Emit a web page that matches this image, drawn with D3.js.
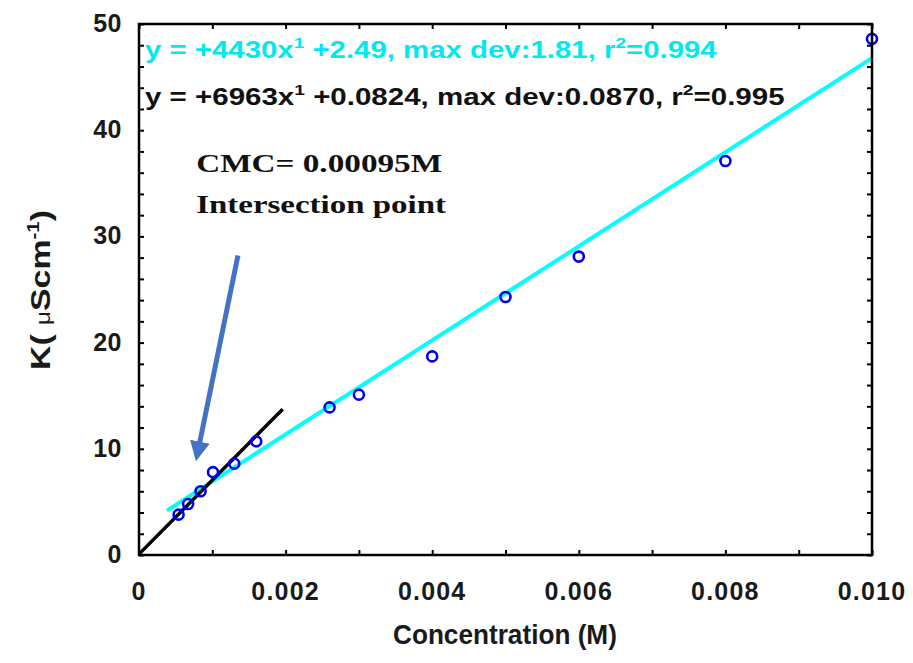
<!DOCTYPE html>
<html lang="en">
<head>
<meta charset="UTF-8" />
<title>Conductivity vs Concentration</title>
<style>
  body { margin: 0; background: #fff; }
  text { font-family: "Liberation Sans", Arial, sans-serif; }
</style>
</head>
<body>
<div id="chart"></div>
<script src="https://cdn.jsdelivr.net/npm/d3@7"></script>
<script>
// measured points
var conc = [0.00054, 0.00067, 0.00084, 0.00101, 0.0013, 0.0016, 0.0026, 0.0030, 0.0040, 0.0050, 0.0060, 0.0080, 0.0100];
var kVal = [3.8, 4.8, 6.0, 7.8, 8.6, 10.7, 13.9, 15.1, 18.7, 24.3, 28.1, 37.1, 48.6];

// fitted lines: slope, intercept, range of x
var fitSlope = [4430, 6963];
var fitIntercept = [2.49, 0.0824];
var fitFrom = [0.00038, 0];
var fitTo = [0.0100, 0.00196];
var fitColor = ["#00ffff", "#000000"];

var xTickLabels = ["0", "0.002", "0.004", "0.006", "0.008", "0.010"];
var yTickLabels = ["0", "10", "20", "30", "40", "50"];

var w = 913, h = 663;
var mLeft = 139, mRight = 872, mTop = 24, mBottom = 555;

var svg = d3.select("#chart").append("svg")
  .attr("width", w)
  .attr("height", h);

var xScale = d3.scaleLinear().domain([0, 0.010]).range([mLeft, mRight]);
var yScale = d3.scaleLinear().domain([0, 50]).range([mBottom, mTop]);

// stretch a text horizontally so it spans the width seen in the picture
function stretch(t, x, y, width, anchor) {
  var len = t.node().getComputedTextLength();
  var sx = width / len;
  var x0 = anchor === "middle" ? x - width / 2 : x;
  t.attr("x", 0).attr("y", 0).attr("text-anchor", "start")
   .attr("transform", "translate(" + x0 + "," + y + ") scale(" + sx + ",1)");
}

// minor ticks (inside)
var xMinor = d3.range(0, 0.01001, 0.001);
var yMinor = d3.range(0, 50.01, 2);

function noDomain(g) { g.select(".domain").remove(); }

svg.append("g")
  .attr("transform", "translate(0," + mBottom + ")")
  .call(d3.axisBottom(xScale).tickValues(xMinor).tickSize(-5).tickFormat(""))
  .call(noDomain);
svg.append("g")
  .attr("transform", "translate(0," + mTop + ")")
  .call(d3.axisTop(xScale).tickValues(xMinor).tickSize(-5).tickFormat(""))
  .call(noDomain);
svg.append("g")
  .attr("transform", "translate(" + mLeft + ",0)")
  .call(d3.axisLeft(yScale).tickValues(yMinor).tickSize(-5).tickFormat(""))
  .call(noDomain);
svg.append("g")
  .attr("transform", "translate(" + mRight + ",0)")
  .call(d3.axisRight(yScale).tickValues(yMinor).tickSize(-5).tickFormat(""))
  .call(noDomain);

svg.selectAll(".tick line").attr("stroke", "#000").attr("stroke-width", 2);

// tick labels
svg.selectAll("text.xlab")
  .data(xTickLabels)
  .enter().append("text")
  .attr("class", "xlab")
  .attr("x", function(d) { return xScale(+d); })
  .attr("y", mBottom + 45)
  .attr("text-anchor", "middle")
  .style("font-size", "25px")
  .style("letter-spacing", "1.2px")
  .style("font-weight", "bold")
  .style("fill", "#1a1a1a")
  .text(function(d) { return d; });

svg.selectAll("text.ylab")
  .data(yTickLabels)
  .enter().append("text")
  .attr("class", "ylab")
  .attr("x", mLeft - 17)
  .attr("y", function(d) { return yScale(+d) + 8; })
  .attr("text-anchor", "end")
  .style("font-size", "25px")
  .style("letter-spacing", "0.5px")
  .style("font-weight", "bold")
  .style("fill", "#1a1a1a")
  .text(function(d) { return d; });

// fit lines
var fits = fitSlope.map(function(s, i) {
  return { s: s, b: fitIntercept[i], x0: fitFrom[i], x1: fitTo[i], c: fitColor[i] };
});
var line = d3.line()
  .x(function(d) { return xScale(d[0]); })
  .y(function(d) { return yScale(d[1]); });

svg.selectAll("path.fit")
  .data(fits)
  .enter().append("path")
  .attr("class", "fit")
  .attr("d", function(f) { return line([[f.x0, f.s * f.x0 + f.b], [f.x1, f.s * f.x1 + f.b]]); })
  .attr("fill", "none")
  .attr("stroke", function(f) { return f.c; })
  .attr("stroke-width", function(f) { return f.c === "#000000" ? 3.5 : 4; });

// points
svg.selectAll("circle.pt")
  .data(conc)
  .enter().append("circle")
  .attr("class", "pt")
  .attr("cx", function(d) { return xScale(d); })
  .attr("cy", function(d, i) { return yScale(kVal[i]); })
  .attr("r", 5)
  .attr("fill", "none")
  .attr("stroke", "#0000ee")
  .attr("stroke-width", 2.6);

// frame
svg.append("rect")
  .attr("x", mLeft).attr("y", mTop)
  .attr("width", mRight - mLeft).attr("height", mBottom - mTop)
  .attr("fill", "none")
  .attr("stroke", "#000")
  .attr("stroke-width", 2.5);

// equations
function equation(y, color, width, parts) {
  var t = svg.append("text")
    .style("font-size", "23px")
    .style("font-weight", "bold")
    .style("fill", color);
  parts.forEach(function(p) {
    if (p.sup) {
      t.append("tspan").attr("dy", -10).style("font-size", "15px").text(p.sup);
      t.append("tspan").attr("dy", 10).text(p.t);
    } else {
      t.append("tspan").text(p.t);
    }
  });
  stretch(t, mLeft + 6, y, width, "start");
}
equation(58, "#00e8f0", 572, [{ t: "y = +4430x" }, { sup: "1", t: " +2.49, max dev:1.81, r" }, { sup: "2", t: "=0.994" }]);
equation(105, "#111", 640, [{ t: "y = +6963x" }, { sup: "1", t: " +0.0824, max dev:0.0870, r" }, { sup: "2", t: "=0.995" }]);

// CMC annotation
var cmc1 = svg.append("text")
  .style("font-family", "'Liberation Serif', 'Times New Roman', serif")
  .style("font-size", "26px").style("font-weight", "bold").style("fill", "#111")
  .text("CMC= 0.00095M");
stretch(cmc1, xScale(0.00078), yScale(36.1), 246, "start");
var cmc2 = svg.append("text")
  .style("font-family", "'Liberation Serif', 'Times New Roman', serif")
  .style("font-size", "26px").style("font-weight", "bold").style("fill", "#111")
  .text("Intersection point");
stretch(cmc2, xScale(0.00078), yScale(32.2), 250, "start");

// arrow toward intersection
svg.append("defs").append("marker")
  .attr("id", "head")
  .attr("viewBox", "0 0 10 10")
  .attr("refX", 2).attr("refY", 5)
  .attr("markerWidth", 4).attr("markerHeight", 4)
  .attr("orient", "auto")
  .append("path")
  .attr("d", "M0,0 L10,5 L0,10 z")
  .attr("fill", "#4472c4");

svg.append("line")
  .attr("x1", xScale(0.00135)).attr("y1", yScale(28.2))
  .attr("x2", xScale(0.00082)).attr("y2", yScale(10.3))
  .attr("stroke", "#4472c4")
  .attr("stroke-width", 5)
  .attr("marker-end", "url(#head)");

// axis titles
var xt = svg.append("text")
  .style("font-size", "28px").style("font-weight", "bold").style("fill", "#1a1a1a")
  .text("Concentration (M)");
stretch(xt, 505, 644, 224, "middle");

var yt = svg.append("text")
  .style("font-size", "28px").style("font-weight", "bold").style("fill", "#1a1a1a");
yt.append("tspan").text("K( ");
yt.append("tspan").style("font-weight", "normal").style("font-size", "20px").text("\u03bc");
yt.append("tspan").text("Scm");
yt.append("tspan").attr("dy", -11).style("font-size", "17px").text("-1");
yt.append("tspan").attr("dy", 11).text(")");
var ylen = yt.node().getComputedTextLength();
yt.attr("text-anchor", "middle")
  .attr("transform", "translate(50,290) rotate(-90) scale(" + (160 / ylen) + ",1)");
</script>
</body>
</html>
